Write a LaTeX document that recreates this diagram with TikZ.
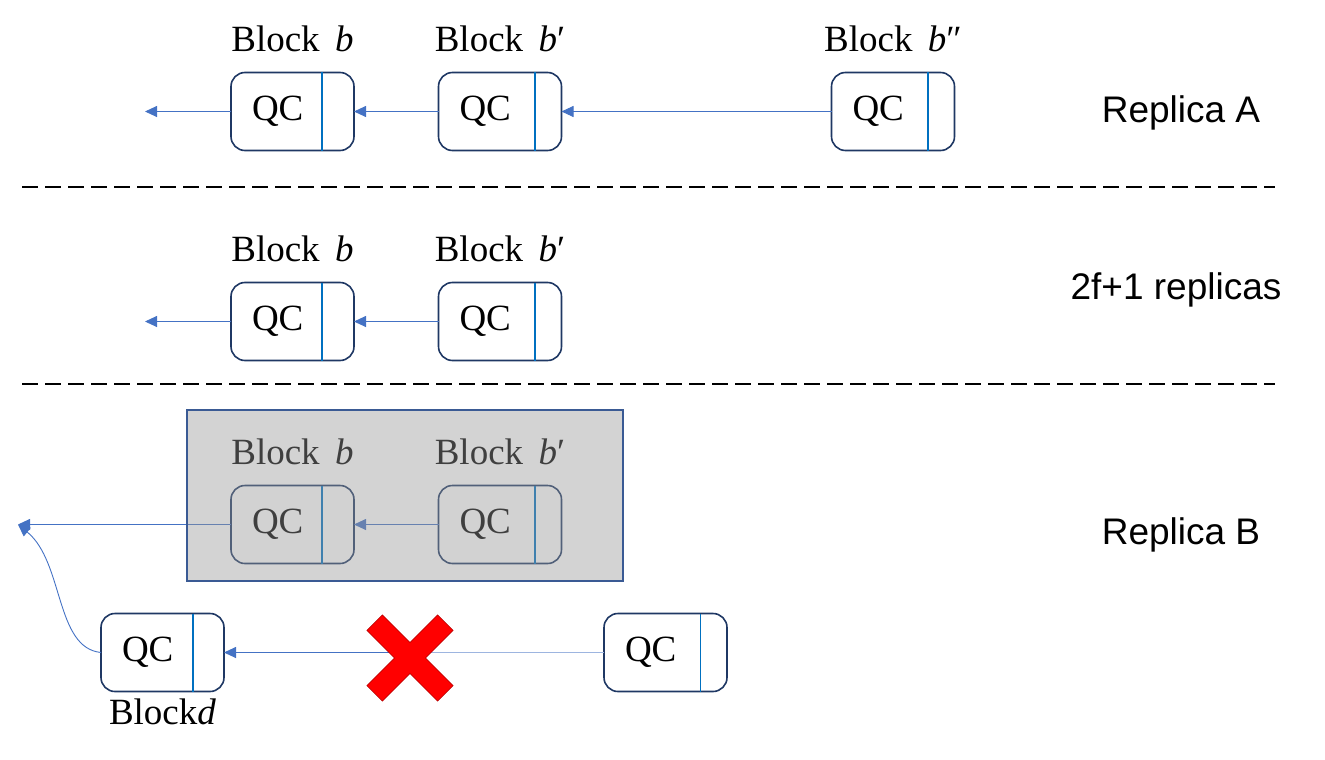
\documentclass[tikz,border=0pt]{standalone}
\usepackage{fontspec}
\setmainfont{Liberation Serif}
\newfontfamily\arialfont{Liberation Sans}
\usetikzlibrary{arrows.meta,positioning}

\definecolor{boxnavy}{HTML}{1F3864}
\definecolor{linkblue}{HTML}{4472C4}
\definecolor{splitblue}{HTML}{0070C0}
\definecolor{paleblue}{HTML}{9DB5E0}
\definecolor{shadegray}{RGB}{151,151,151}
\definecolor{frameblue}{HTML}{3A5A94}
\definecolor{crossred}{HTML}{FF0000}

\begin{document}
\begin{tikzpicture}[x=1pt, y=-1pt,
    qcbox/.style={draw=boxnavy, line width=1.6pt, rounded corners=14pt, fill=white,
        minimum height=78pt, text width=81pt, inner xsep=21pt, outer sep=0pt,
        align=left, font=\fontsize{37}{40}\selectfont},
    blocklabel/.style={font=\fontsize{37}{40}\selectfont, inner sep=0pt},
    sidelabel/.style={font=\arialfont\fontsize{37}{40}\selectfont},
    link/.style={draw=linkblue, line width=0.9pt, -{Triangle[length=12pt,width=11pt]}},
    split/.style={draw=splitblue, line width=1.8pt},
    sep/.style={line width=2pt, dash pattern=on 16pt off 7pt}]
    \useasboundingbox (0,0) rectangle (1325,760);

    % Replica A: chain of three blocks
    \node[qcbox] (a1) at (292.5,111.5) {QC};
    \node[qcbox] (a2) at (500,111.5) {QC};
    \node[qcbox] (a3) at (893,111.5) {QC};
    \node[blocklabel, above=20pt of a1] (la1) {Block\ \,\textit{b}};
    \node[blocklabel, above=20pt of a2] (la2) {Block\ \,\textit{b}′};
    \node[blocklabel, above=20pt of a3] (la3) {Block\ \,\textit{b}″};
    \coordinate (a0) at (145,111.5);
    \draw[link] (a1.west) -- (a0);
    \draw[link] (a2.west) -- (a1.east);
    \draw[link] (a3.west) -- (a2.east);
    \node[sidelabel] (repa) at (1181,113) {Replica A};

    \draw[sep] (22,187) -- (1275,187);

    % 2f+1 replicas
    \node[qcbox] (b1) at (292.5,321.5) {QC};
    \node[qcbox] (b2) at (500,321.5) {QC};
    \node[blocklabel, above=20pt of b1] (lb1) {Block\ \,\textit{b}};
    \node[blocklabel, above=20pt of b2] (lb2) {Block\ \,\textit{b}′};
    \coordinate (b0) at (145,321.5);
    \draw[link] (b1.west) -- (b0);
    \draw[link] (b2.west) -- (b1.east);
    \node[sidelabel] (quorum) at (1176,290) {2f+1 replicas};

    \draw[sep] (22,384) -- (1275,384);

    % Replica B: old chain, later greyed out
    \node[qcbox] (c1) at (292.5,524.5) {QC};
    \node[qcbox] (c2) at (500,524.5) {QC};
    \node[blocklabel, above=20pt of c1] (lc1) {Block\ \,\textit{b}};
    \node[blocklabel, above=20pt of c2] (lc2) {Block\ \,\textit{b}′};
    \coordinate (tip) at (18,524.5);
    \draw[link] (c1.west) -- (tip);
    \draw[link] (c2.west) -- (c1.east);

    % new chain of replica B
    \node[qcbox] (d1) at (162.5,652.5) {QC};
    \node[qcbox] (d2) at (665.5,652.5) {QC};
    \node[blocklabel, below=7pt of d1] (ld1) {Block\textit{d}};
    \coordinate (cut) at (410,658);
    \draw[link] (d1.west) .. controls (55,648) and (64,562) .. (tip);
    \draw[draw=paleblue, line width=0.9pt] (d2.west) -- (cut |- d2.west);
    \draw[link] (cut |- d2.west) -- (d1.east);
    \node[sidelabel] (repb) at (1181,535) {Replica B};

    % dividers in the blocks
    \foreach \n/\s in {a1/32, a2/26.6, a3/26.6, b1/32, b2/26.6, c1/32, c2/26.6, d1/31, d2/26.6}
        \draw[split] ([xshift=-\s pt]\n.north east) -- ([xshift=-\s pt]\n.south east);

    % grey veil over the old chain
    \node[draw=frameblue, line width=2pt, fill=shadegray, fill opacity=0.424,
        minimum width=436pt, minimum height=171pt] (veil) at (405,495.5) {};

    % red cross on the broken link
    \begin{scope}[shift={(cut)}, rotate=45]
        \filldraw[fill=crossred, draw=red!70!black, line width=0.6pt]
            (11,11) -- (50,11) -- (50,-11) -- (11,-11) -- (11,-50) -- (-11,-50)
            -- (-11,-11) -- (-50,-11) -- (-50,11) -- (-11,11) -- (-11,50)
            -- (11,50) -- cycle;
    \end{scope}
\end{tikzpicture}
\end{document}
